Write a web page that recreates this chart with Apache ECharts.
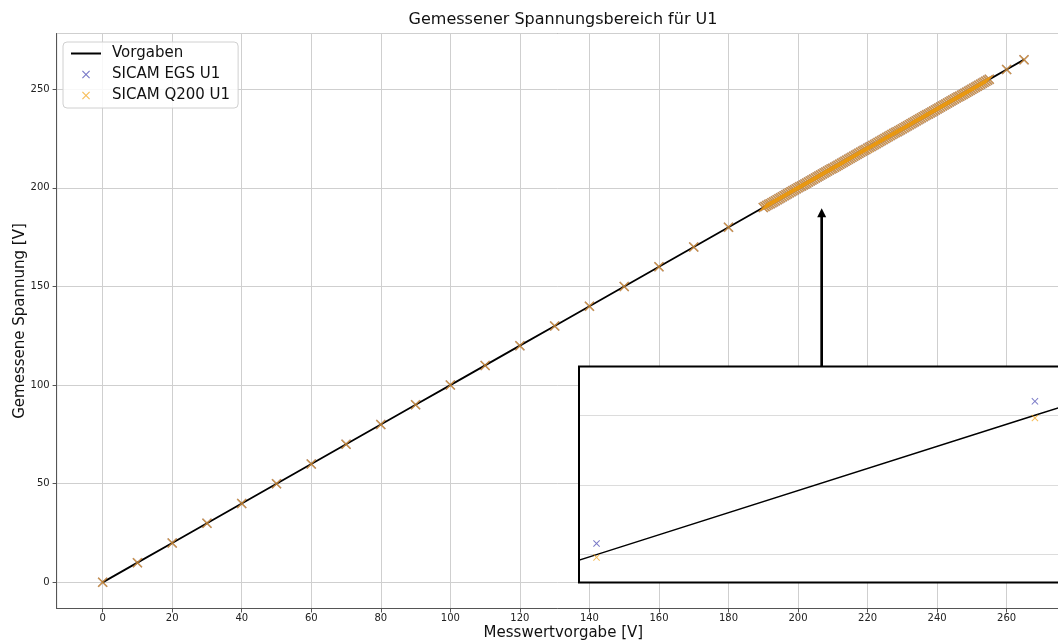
<!DOCTYPE html>
<html><head><meta charset="utf-8">
<script src="https://cdn.jsdelivr.net/npm/echarts@6/dist/echarts.min.js"></script>
<style>html,body{margin:0;padding:0;background:#fff}#c{width:1058px;height:642px}</style>
</head><body><div id="c"></div>
<script>
const titleText = 'Gemessener Spannungsbereich für U1';
const xAxisName = 'Messwertvorgabe [V]';
const yAxisName = 'Gemessene Spannung [V]';
const seriesNames = ['Vorgaben', 'SICAM EGS U1', 'SICAM Q200 U1'];

// Messwertvorgabe (nominal) values
const nominal = [0,10,20,30,40,50,60,70,80,90,100,110,120,130,140,150,160,170,180,
190,190.5,191,191.5,192,192.5,193,193.5,194,194.5,
195,195.5,196,196.5,197,197.5,198,198.5,199,199.5,
200,200.5,201,201.5,202,202.5,203,203.5,204,204.5,
205,205.5,206,206.5,207,207.5,208,208.5,209,209.5,
210,210.5,211,211.5,212,212.5,213,213.5,214,214.5,
215,215.5,216,216.5,217,217.5,218,218.5,219,219.5,
220,220.5,221,221.5,222,222.5,223,223.5,224,224.5,
225,225.5,226,226.5,227,227.5,228,228.5,229,229.5,
230,230.5,231,231.5,232,232.5,233,233.5,234,234.5,
235,235.5,236,236.5,237,237.5,238,238.5,239,239.5,
240,240.5,241,241.5,242,242.5,243,243.5,244,244.5,
245,245.5,246,246.5,247,247.5,248,248.5,249,249.5,
250,250.5,251,251.5,252,252.5,253,253.5,254,254.5,
255,260,265];

// Measured by SICAM EGS U1
const egsU1 = [0,10,20,30,40,50,60,70,80,90,100,110,120,130,140,150,160,170,180,
190,190.5,191,191.5,192,192.5,193,193.5,194,194.5,
195,195.5,196,196.5,197,197.5,198,198.5,199,199.5,
200,200.5,201,201.5,202,202.5,203,203.5,204,204.5,
205,205.5,206,206.5,207,207.5,208,208.5,209,209.5,
210,210.5,211,211.5,212,212.5,213,213.5,214,214.5,
215,215.5,216,216.5,217,217.5,218,218.5,219,219.5,
220.04,220.55,221,221.5,222,222.5,223,223.5,224,224.5,
225,225.5,226,226.5,227,227.5,228,228.5,229,229.5,
230,230.5,231,231.5,232,232.5,233,233.5,234,234.5,
235,235.5,236,236.5,237,237.5,238,238.5,239,239.5,
240,240.5,241,241.5,242,242.5,243,243.5,244,244.5,
245,245.5,246,246.5,247,247.5,248,248.5,249,249.5,
250,250.5,251,251.5,252,252.5,253,253.5,254,254.5,
255,260,265];

// Measured by SICAM Q200 U1
const q200U1 = [0,10,20,30,40,50,60,70,80,90,100,110,120,130,140,150,160,170,180,
190,190.5,191,191.5,192,192.5,193,193.5,194,194.5,
195,195.5,196,196.5,197,197.5,198,198.5,199,199.5,
200,200.5,201,201.5,202,202.5,203,203.5,204,204.5,
205,205.5,206,206.5,207,207.5,208,208.5,209,209.5,
210,210.5,211,211.5,212,212.5,213,213.5,214,214.5,
215,215.5,216,216.5,217,217.5,218,218.5,219,219.5,
219.99,220.49,221,221.5,222,222.5,223,223.5,224,224.5,
225,225.5,226,226.5,227,227.5,228,228.5,229,229.5,
230,230.5,231,231.5,232,232.5,233,233.5,234,234.5,
235,235.5,236,236.5,237,237.5,238,238.5,239,239.5,
240,240.5,241,241.5,242,242.5,243,243.5,244,244.5,
245,245.5,246,246.5,247,247.5,248,248.5,249,249.5,
250,250.5,251,251.5,252,252.5,253,253.5,254,254.5,
255,260,265];

// annotation arrow (data coordinates): x, from y, to y (tip)
const arrowAnno = [206.8, 109.6, 189.6];

const FONT = 'DejaVu Sans';
const xMark = 'path://M0,1L1,0L5,4L9,0L10,1L6,5L10,9L9,10L5,6L1,10L0,9L4,5Z';
const lineIcon = 'path://M0,0L30,0L30,2L0,2Z';
const egsColor = 'rgba(40,40,165,0.78)';
const q200Color = 'rgba(245,160,10,0.85)';

const insetBox = {left: 579, top: 366.5, width: 491, height: 216};

const linePairs = nominal.map(v => [v, v]);
const egsPairs = nominal.map((v, i) => [v, egsU1[i]]);
const q200Pairs = nominal.map((v, i) => [v, q200U1[i]]);

const chart = echarts.init(document.getElementById('c'), null, {renderer: 'canvas'});
chart.setOption({
  animation: false,
  backgroundColor: '#fff',
  textStyle: {fontFamily: FONT},
  title: {
    text: titleText, left: 563, top: 12, padding: 0, textAlign: 'center',
    textStyle: {fontFamily: FONT, fontSize: 16, fontWeight: 'normal', color: '#111'}
  },
  legend: {
    left: 63, top: 42, orient: 'vertical',
    padding: [3, 8, 4, 8], itemGap: 4, itemWidth: 30, itemHeight: 8,
    borderColor: '#d0d0d0', borderWidth: 1, borderRadius: 4,
    backgroundColor: 'rgba(255,255,255,0.85)',
    textStyle: {fontFamily: FONT, fontSize: 15, color: '#111', lineHeight: 17, padding: [0, 0, 0, 6]},
    data: [
      {name: seriesNames[0], icon: lineIcon},
      {name: seriesNames[1], icon: xMark},
      {name: seriesNames[2], icon: xMark}
    ]
  },
  grid: [
    {left: 56.6, top: 33.5, width: 1013.5, height: 575, show: true, borderColor: '#555', borderWidth: 1,
     containLabel: false, outerBoundsMode: 'none', z: 0},
    {left: insetBox.left, top: insetBox.top, width: insetBox.width, height: insetBox.height,
     show: true, backgroundColor: '#fff', borderWidth: 0,
     containLabel: false, outerBoundsMode: 'none', z: 5}
  ],
  xAxis: [
    {
      type: 'value', gridIndex: 0, min: -13.25, max: 278.25, minInterval: 20, maxInterval: 20,
      name: xAxisName, nameLocation: 'middle', nameGap: 17, nameMoveOverlap: false,
      nameTextStyle: {fontFamily: FONT, fontSize: 15, color: '#111'},
      axisLine: {show: true, onZero: false, lineStyle: {color: '#555', width: 1}},
      axisTick: {show: true, inside: false, length: 4, lineStyle: {color: '#555'}},
      axisLabel: {fontFamily: FONT, fontSize: 10, color: '#222', margin: 5, showMinLabel: false, showMaxLabel: false},
      splitLine: {show: true, lineStyle: {color: '#cfcfcf', width: 1}}
    },
    {
      type: 'value', gridIndex: 1, min: 219.98, max: 220.54, z: 6,
      axisLine: {show: false}, axisTick: {show: false}, axisLabel: {show: false}, splitLine: {show: false}
    }
  ],
  yAxis: [
    {
      type: 'value', gridIndex: 0, min: -13.25, max: 278.25, minInterval: 50, maxInterval: 50,
      name: yAxisName, nameLocation: 'middle', nameGap: 29, nameMoveOverlap: false,
      nameTextStyle: {fontFamily: FONT, fontSize: 15, color: '#111'},
      axisLine: {show: true, onZero: false, lineStyle: {color: '#555', width: 1}},
      axisTick: {show: true, inside: false, length: 4, lineStyle: {color: '#555'}},
      axisLabel: {fontFamily: FONT, fontSize: 10, color: '#222', margin: 7, showMinLabel: false, showMaxLabel: false},
      splitLine: {show: true, lineStyle: {color: '#cfcfcf', width: 1}}
    },
    {
      type: 'value', gridIndex: 1, min: 219.9, max: 220.675, minInterval: 0.25, maxInterval: 0.25, z: 6,
      axisLine: {show: false}, axisTick: {show: false}, axisLabel: {show: false},
      splitLine: {show: true, showMinLine: false, showMaxLine: false, lineStyle: {color: '#dcdcdc', width: 1}}
    }
  ],
  series: [
    {
      name: seriesNames[0], type: 'line', xAxisIndex: 0, yAxisIndex: 0, data: linePairs,
      symbol: 'none', lineStyle: {color: '#000', width: 1.8}, itemStyle: {color: '#000'}, z: 2
    },
    {
      name: seriesNames[1], type: 'scatter', xAxisIndex: 0, yAxisIndex: 0, data: egsPairs,
      symbol: xMark, symbolSize: 10, itemStyle: {color: egsColor}, z: 3
    },
    {
      name: seriesNames[2], type: 'scatter', xAxisIndex: 0, yAxisIndex: 0, data: q200Pairs,
      symbol: xMark, symbolSize: 10, itemStyle: {color: q200Color}, z: 4
    },
    {
      name: seriesNames[0], type: 'line', xAxisIndex: 1, yAxisIndex: 1, data: linePairs, clip: true,
      symbol: 'none', lineStyle: {color: '#000', width: 1.5}, itemStyle: {color: '#000'}, z: 7
    },
    {
      name: seriesNames[1], type: 'scatter', xAxisIndex: 1, yAxisIndex: 1, data: egsPairs, clip: true,
      symbol: xMark, symbolSize: 7, itemStyle: {color: egsColor}, z: 8
    },
    {
      name: seriesNames[2], type: 'scatter', xAxisIndex: 1, yAxisIndex: 1, data: q200Pairs, clip: true,
      symbol: xMark, symbolSize: 7, itemStyle: {color: q200Color}, z: 9
    }
  ]
});

// annotation arrow placed through the main axes' scale, and the inset frame
const pBase = chart.convertToPixel({gridIndex: 0}, [arrowAnno[0], arrowAnno[1]]);
const pTip = chart.convertToPixel({gridIndex: 0}, [arrowAnno[0], arrowAnno[2]]);
const headH = 9, headW = 4.5;
chart.setOption({
  graphic: [
    {type: 'line', z: 4, silent: true,
     shape: {x1: pBase[0], y1: pBase[1], x2: pTip[0], y2: pTip[1] + headH - 1},
     style: {stroke: '#000', lineWidth: 2.7}},
    {type: 'polygon', z: 4, silent: true,
     shape: {points: [[pTip[0], pTip[1]], [pTip[0] - headW, pTip[1] + headH], [pTip[0] + headW, pTip[1] + headH]]},
     style: {fill: '#000'}},
    {type: 'rect', z: 20, silent: true,
     shape: {x: insetBox.left, y: insetBox.top, width: insetBox.width, height: insetBox.height},
     style: {fill: 'none', stroke: '#000', lineWidth: 2}}
  ]
});
</script>
</body></html>
